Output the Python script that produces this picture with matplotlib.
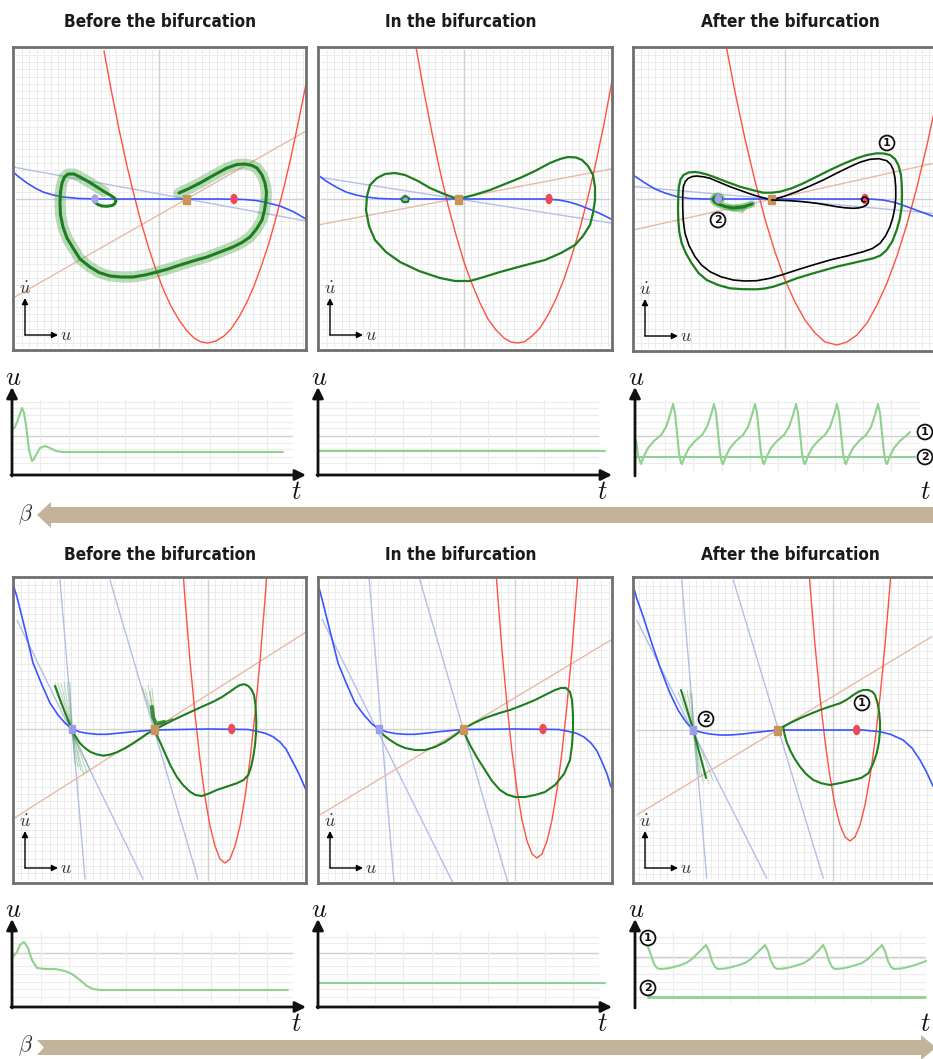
import numpy as np
import matplotlib.pyplot as plt
from matplotlib.patches import Polygon, Ellipse, Rectangle

plt.rcParams['mathtext.fontset'] = 'cm'

W, H = 933, 1059

# -----------------------------
# data (phase planes: offsets from the centre cross, u right / u-dot up)
# -----------------------------
titles = ["Before the bifurcation", "In the bifurcation", "After the bifurcation"]

tl_red = [(-55, 148), (-48, 110), (-40, 70), (-32, 33), (-25, 4), (-18, -23), (-10, -50), (-2, -74),
          (5, -92), (12, -107), (20, -121), (28, -132), (35, -139), (42, -143), (49, -144), (57, -142),
          (65, -137), (72, -130), (80, -118), (88, -103), (95, -87), (102, -68), (110, -44), (118, -15),
          (125, 12), (132, 42), (140, 80), (147, 115)]
tl_blue = [(-146, 27), (-140, 22), (-132, 16), (-124, 11), (-116, 7), (-106, 4), (-96, 2), (-80, 0.5),
           (-60, 0), (60, 0), (85, -0.5), (97, -1.5), (105, -3), (113, -5), (121, -7), (128, -10),
           (135, -13), (141, -16.5), (147, -20)]
tl_lightblue = [(-146, 32), (147, -22)]
tl_peach = [(-146, -99), (147, 68)]
tl_points = [(-64, 0), (27, 0), (75, 0)]
tl_green = [(20, 6), (30, 10.5), (41, 16), (55, 24), (68, 31), (78, 34.5), (86, 35), (93, 33.5), (98, 31),
            (103, 24), (106, 16), (107.5, 7), (107, -1), (105.5, -11), (103, -21), (97.5, -30), (91, -38),
            (83, -43.5), (74, -48), (61, -53), (48, -58), (34, -62), (21, -66), (9, -70), (-2, -73),
            (-14, -76), (-26, -78), (-38, -78), (-49, -77), (-60, -73.5), (-69, -68), (-79, -60),
            (-86, -49), (-92, -39), (-96, -28), (-98.5, -16), (-99, -4), (-98.5, 7), (-97, 16), (-94.5, 22),
            (-91, 25), (-85, 25), (-79, 22), (-70, 17), (-62, 12), (-55, 7.5), (-49, 4), (-44.5, 1),
            (-43, -2), (-44.5, -5), (-47, -6.5), (-52, -7.3), (-57, -7), (-61, -5.5), (-64, -3.5), (-65, 0)]
tl_halo_end = 46

tm_red = [(-48, 152), (-40, 107), (-32, 66), (-24, 28), (-16, -6), (-8, -36), (0, -63), (8, -85),
          (16, -104), (24, -120), (32, -131), (40, -139), (47, -143), (53, -144), (60, -143), (68, -137),
          (76, -129), (84, -116), (92, -100), (100, -80), (108, -56), (116, -29), (124, 2), (132, 37),
          (140, 75), (148, 118)]
tm_blue = [(-146, 24), (-138, 18), (-128, 12), (-118, 7), (-108, 4), (-98, 2), (-85, 0.5), (-70, 0),
           (80, 0), (95, -1), (105, -3), (115, -6), (125, -10), (135, -14), (147, -20)]
tm_lightblue = [(-146, 22), (147, -24)]
tm_peach = [(-146, -26), (147, 30)]
tm_points = [(-59, 0), (-6, 0), (85, 0)]
tm_green = [(-6, 0), (10, 4), (26, 9), (41, 15), (56, 21), (71, 28), (86, 36), (96, 40), (104, 42),
            (112, 41.5), (118, 39), (124, 33), (129, 24), (131, 12), (131, -1), (129, -14), (126, -26),
            (119, -37), (111, -46), (97, -54), (81, -61), (58, -67), (36, -73), (20, -78), (6, -82),
            (-9, -82), (-24, -79), (-45, -72), (-64, -63), (-78, -53), (-89, -41), (-95, -27), (-98, -11),
            (-97, 3), (-94, 14), (-87, 21), (-79, 25), (-69, 26), (-59, 24), (-46, 18), (-34, 11),
            (-20, 5), (-6, 0)]
tm_spiral = [(-59, 3), (-55, 1), (-56, -3), (-61, -3), (-63, 0), (-60, 2)]

tr_red = [(-59, 154), (-50, 107), (-40, 60), (-30, 18), (-20, -20), (-10, -53), (0, -81), (10, -103),
          (20, -121), (30, -134), (40, -143), (52, -146), (62, -143), (72, -136), (82, -124), (92, -106),
          (102, -84), (112, -57), (122, -25), (132, 12), (142, 54), (150, 91)]
tr_blue = [(-152, 24), (-140, 16), (-130, 10), (-120, 6), (-108, 2.3), (-95, 0.5), (-80, 0), (85, 0),
           (98, -1), (110, -3.5), (122, -7.7), (135, -12.5), (150, -18)]
tr_lightblue = [(-152, 12.5), (150, -14.5)]
tr_peach = [(-152, -31), (150, 36)]
tr_points = [(-66.7, 0), (-13.3, 0), (80, 0)]
tr_cycle = [(-106.7, 2.3), (-106.2, 12), (-104.5, 19.5), (-101.5, 24), (-96.5, 26.5), (-90, 27),
            (-85, 26.3), (-78, 24.5), (-71.7, 22.3), (-58, 17), (-45, 12.3), (-33, 9), (-21.7, 6.3),
            (-13, 6.3), (-5, 7.3), (6, 10.5), (18.3, 15.7), (31, 22), (45, 29), (58, 35), (71.7, 40.7),
            (82, 44), (91.7, 45.7), (99, 45.5), (105, 44), (110, 40), (113.3, 34), (115.8, 25),
            (116.7, 15.7), (117, 4), (116.7, -7.7), (114.8, -20), (111.7, -31), (107.5, -42), (101.7, -51),
            (95.5, -56.5), (88.3, -59.3), (70, -63.5), (51.7, -67.7), (31, -73.5), (11.7, -79.3),
            (0, -83.7), (-11.7, -87.7), (-20, -89.5), (-28.3, -90.3), (-42, -90.2), (-55, -89.3),
            (-67, -86), (-78.3, -81), (-86.5, -74), (-93.3, -64.3), (-99, -54.5), (-103.3, -44.3),
            (-105.7, -33), (-106.7, -21), (-107, -9), (-106.7, 2.3)]
tr_black = [(-13.3, -1), (0, 3), (11.7, 7.3), (25, 13), (38.3, 19), (52, 26), (65, 32.3), (75, 36.8),
            (85, 39.7), (94, 40.3), (101.7, 38.3), (105.8, 34.5), (108.3, 29), (110, 21), (110.7, 12.3),
            (110.8, 2), (110, -7.7), (108, -18), (105, -27.7), (100.5, -37), (95, -44.3), (87.5, -49.5),
            (78.3, -52.7), (62, -57), (45, -61), (28, -66), (11.7, -71), (-2, -75.5), (-15, -79.3),
            (-28.3, -81.7), (-40, -82), (-51.7, -81), (-64, -77.8), (-75, -72.7), (-83.5, -66), (-90, -57.7),
            (-96, -46.5), (-100, -34.3), (-101.8, -21), (-102.3, -7.7), (-102.3, 3), (-101.7, 12.3),
            (-99.7, 17.5), (-96.7, 20.7), (-92.5, 22.5), (-88.3, 23), (-81.5, 22.2), (-75, 20.7),
            (-65, 16.5), (-55, 12.3), (-43, 8), (-31.7, 4), (-22, 1.3), (-13.3, -1)]
tr_black_branch = [(-13.3, -1), (5, -1.7), (18, -2.7), (31.7, -4.3), (41, -5.8), (51.7, -7.7), (60, -8.8),
                   (68.3, -9.3), (74, -8.9), (78.3, -7.7), (81.5, -6), (83.3, -3.7), (83.5, -1.3),
                   (82.3, 0.7), (80.3, 1.9), (78.3, 1.7), (76.7, 0.2), (76.7, -1.7), (78.3, -2.8), (80, -2.7)]
tr_curl = [(-33, -5), (-42, -8), (-52, -9), (-60, -7.5), (-67, -5), (-70.5, -3), (-72, -0.5), (-71, 1.5),
           (-69, 2.8), (-67, 3), (-64.8, 2.2), (-63.5, 1), (-63.7, -0.5), (-64.5, -1.5), (-66, -1.6), (-67, -1)]
tr_wedge = [(-62, -6), (-35, -6), (-42, -14), (-55, -12)]

bl_red = [(-28, 200), (-23, 130), (-18, 68), (-13, 15), (-8, -31), (-3, -68), (2, -97), (7, -117),
          (12, -130), (17, -134), (22, -130), (27, -117), (32, -97), (37, -68), (42, -31), (47, 15),
          (52, 68), (57, 130), (62, 200)]
bl_blue = [(-195, 145), (-191, 132), (-183, 100), (-175, 66), (-166, 44), (-158, 26), (-150, 14),
           (-143, 6), (-136, 0), (-128, -3), (-121, -4.3), (-111, -5.3), (-101, -5.3), (-88, -4),
           (-75, -2.7), (-54, -1), (0, 0), (40, -0.5), (50, -2.5), (58, -4.5), (65, -7.7), (72, -13),
           (78, -20), (82, -27.7), (87, -37), (91, -45), (95, -54), (98, -61)]
bl_lightblue = [[(-148, 149), (-123, -150)], [(-191, 109), (-65, -150)], [(-98, 149), (-10, -150)]]
bl_peach = [(-195, -90), (98, 97)]
bl_points = [(-136.3, 0), (-54, 0), (23.7, 0)]
bl_green = [(-153, 43), (-149, 32), (-144.7, 20.7), (-140.5, 10), (-136.3, 0), (-132.5, -7.5), (-128, -14.3),
            (-123, -19), (-118, -22.7), (-111.5, -25.3), (-104.7, -26.7), (-98, -25.6), (-91.3, -23.3),
            (-83, -19.3), (-74.7, -14.3), (-67.5, -9.5), (-61.3, -5), (-54, -1), (-44, 4.2), (-34.7, 9),
            (-24.5, 13.8), (-14.7, 18.3), (-4.5, 23), (5.3, 27.3), (14, 32), (22, 37.3), (27.5, 41.3),
            (32, 44), (36.5, 44.8), (40.3, 43), (43.5, 39.5), (46, 34), (47.4, 25), (48, 15.7), (48.3, 6),
            (48, -4.3), (47, -16), (45.3, -27.7), (43.2, -37.5), (40.3, -46), (35.5, -51), (28.7, -54.3),
            (18.5, -57.7), (8.7, -61), (1, -64.5), (-6.3, -67), (-12.5, -66), (-18, -62.7), (-25, -56),
            (-31.3, -47.7), (-37.5, -36.5), (-43, -24.3), (-47.5, -14), (-51.3, -6), (-54, -1)]
bl_fan_top = [(-153, 46), (-150, 46), (-147, 46), (-144, 47), (-141, 47), (-138, 47)]
bl_fan_bot = [(-118, -41), (-121, -44), (-124, -46), (-127, -42), (-130, -38), (-133, -35)]
bl_sfan_top = [(-66, 42), (-63, 40), (-60, 44), (-58, 38), (-56, 41)]

bm_red = [(-23, 215), (-18, 143), (-13, 79), (-8, 24), (-3, -23), (2, -61), (7, -91), (12, -112),
          (17, -125), (22, -129), (27, -125), (32, -112), (37, -91), (42, -61), (47, -23), (52, 24),
          (57, 79), (62, 143), (67, 215)]
bm_blue = [(-197, 145), (-193, 130), (-185, 98), (-177, 66), (-168, 44), (-160, 26), (-151, 14),
           (-143, 5), (-136, 0), (-128, -3), (-120, -4.5), (-110, -5.3), (-100, -5.3), (-87, -4),
           (-74, -2.5), (-52, -0.5), (0, 0), (44, -0.5), (54, -2.5), (62, -4.5), (69, -8), (76, -14),
           (82, -22), (87, -33), (92, -45), (96, -58)]
bm_lightblue = [[(-146, 152), (-121, -154)], [(-193, 110), (-62, -154)], [(-96, 152), (-7, -154)]]
bm_peach = [(-197, -87), (96, 89)]
bm_points = [(-136, 0), (-52, 0), (28, 0)]
bm_green = [(-136, 0), (-131, -6.5), (-125, -11), (-118, -15.5), (-110, -19), (-100, -21), (-90, -21),
            (-80, -18), (-70, -13), (-61, -7), (-52, 0), (-41, 6), (-30, 11), (-17, 15.5), (-5, 19),
            (8, 24), (20, 29), (30, 34), (40, 39), (46, 41), (51, 41), (55, 37), (57, 29), (58, 14),
            (58, -1), (57, -16), (55, -31), (49, -45), (40, -56), (30, -63), (20, -66), (10, -68), (0, -68),
            (-8, -65.5), (-15, -61), (-23, -52), (-30, -41), (-38, -28.5), (-45, -16), (-49, -7.5), (-52, 0)]

br_red = [(-28, 213), (-23, 145), (-18, 85), (-13, 33), (-8, -11), (-3, -47), (2, -75), (7, -95),
          (12, -107), (17, -111), (22, -107), (27, -95), (32, -75), (37, -47), (42, -11), (47, 33),
          (52, 85), (57, 145), (62, 213)]
br_blue = [(-200, 145), (-196.3, 131.7), (-190, 114), (-180, 83), (-172, 60), (-163, 36.7), (-155, 20),
           (-147, 8), (-140, 0), (-131, -2.5), (-123, -4), (-113, -5), (-103, -5), (-90, -4), (-80, -2.7),
           (-55, 0), (30, 0), (47, -1.7), (58, -4.5), (70, -10), (79, -18), (87, -30), (93, -41),
           (98.7, -53.3), (102, -60)]
br_lightblue = [[(-151.3, 150), (-126.3, -148.3)], [(-196.3, 110), (-66.3, -148.3)],
                [(-99.7, 150), (-9.7, -148.3)]]
br_peach = [(-196.3, -85), (98.7, 93.3)]
br_points = [(-139.7, 0), (-55.3, 0), (23.7, 0)]
br_green = [(-49.7, 3.3), (-41.5, 7.7), (-33, 11.7), (-23, 16), (-13, 20), (-3, 23.5), (7, 26.7),
            (14, 30.5), (20.3, 35), (25.5, 38.3), (30.3, 40), (35.5, 40), (39.5, 38.2), (42, 35), (44.8, 26),
            (46.3, 16.7), (47, 8), (47, 0), (46, -12), (43.7, -23.3), (40, -34), (35.3, -43.3), (28.5, -47.8),
            (20.3, -50), (8.5, -52.8), (-3, -55), (-11.5, -53.3), (-19.7, -50), (-27, -44), (-33, -36.7),
            (-38.5, -28.5), (-43, -20), (-46.5, -11.5), (-48.7, -3.3), (-49.7, 3.3)]
br_fan_top = [(-155, 38), (-152, 40), (-149, 38), (-146, 40), (-143, 38), (-141, 36)]
br_fan_bot = [(-120, -50), (-124, -54), (-127, -48), (-130, -52), (-133, -46), (-136, -44)]

# time series (t, u)
ts_tl = [(0, 45), (3, 48), (5, 53), (8, 61), (10, 67), (12, 62), (14, 50), (17, 25), (20, 14), (22, 16),
         (24, 20), (28, 27), (33, 29), (38, 27), (44, 24), (50, 23), (55, 23), (271, 23)]
ts_tm = [(0, 24), (287, 24)]
ts_tr1 = [(1, 35), (3, 20),
          (6, 11), (9, 19), (13, 27), (19, 34), (26, 40), (31, 48), (35, 60), (38, 71), (40, 62), (42, 42), (44, 22), (46, 12),
          (47, 11), (50, 19), (54, 27), (60, 34), (67, 40), (72, 48), (76, 60), (79, 71), (81, 62), (83, 42), (85, 22), (87, 12),
          (88, 11), (91, 19), (95, 27), (101, 34), (108, 40), (113, 48), (117, 60), (120, 71), (122, 62), (124, 42), (126, 22), (128, 12),
          (129, 11), (132, 19), (136, 27), (142, 34), (149, 40), (154, 48), (158, 60), (161, 71), (163, 62), (165, 42), (167, 22), (169, 12),
          (170, 11), (173, 19), (177, 27), (183, 34), (190, 40), (195, 48), (199, 60), (202, 71), (204, 62), (206, 42), (208, 22), (210, 12),
          (211, 11), (214, 19), (218, 27), (224, 34), (231, 40), (236, 48), (240, 60), (243, 71), (245, 62), (247, 42), (249, 22), (251, 12),
          (252, 11), (255, 19), (259, 27), (265, 34), (272, 40), (275, 43)]
ts_tr2 = [(1, 18), (280, 18)]
ts_bl = [(0, 49), (5, 55), (8, 62), (12, 65), (16, 59), (20, 47), (25, 39), (33, 38), (43, 38), (53, 36),
         (60, 33), (68, 27), (75, 21), (81, 18), (88, 17), (276, 17)]
ts_bm = [(0, 24), (287, 24)]
ts_br1 = [(13, 60), (16, 52), (19, 43), (22, 39), (25, 38), (32, 38.5), (39, 40), (46, 42), (51, 44), (57, 48), (61, 52), (66, 57), (71, 62),
          (74, 56), (77, 46), (80, 40), (83, 38), (90, 38.5), (97, 40), (104, 42), (110, 44), (116, 48), (120, 52), (125, 57), (130, 62),
          (133, 56), (136, 46), (139, 40), (142, 38), (149, 38.5), (156, 40), (163, 42), (169, 44), (175, 48), (179, 52), (184, 57), (188, 62),
          (191, 56), (194, 46), (197, 40), (200, 38), (207, 38.5), (214, 40), (221, 42), (227, 44), (233, 48), (237, 52), (242, 57), (247, 62),
          (250, 56), (253, 46), (256, 40), (259, 38), (266, 38.5), (273, 40), (280, 42), (286, 44), (291, 46)]
ts_br2 = [(13, 10), (290, 10)]

# -----------------------------
# colours
# -----------------------------
RED = '#ff5040'
BLUE = '#3a55ff'
LBLUE = '#b3bfe8'
PEACH = '#e6baa6'
GREEN = '#1c7e1c'
TSGREEN = '#8fd18f'
TAN = '#c7955c'
ARROWC = '#c3b39a'

fig = plt.figure(figsize=(W / 100, H / 100), dpi=100)


def px_axes(x0, y0, x1, y1):
    return fig.add_axes([x0 / W, 1 - y1 / H, (x1 - x0) / W, (y1 - y0) / H])


def line(ax, pts, **kw):
    a = np.array(pts, dtype=float)
    ax.plot(a[:, 0], a[:, 1], solid_capstyle='round', solid_joinstyle='round', **kw)


def grid_vals(lo, hi, step):
    return np.arange(int(np.ceil(lo / step)), int(np.floor(hi / step)) + 1) * step


def phase_panel(box, centre, red, blue, lblue, peach, points, node_square=False):
    x0, y0, x1, y1 = box
    cx, cy = centre
    ax = px_axes(x0, y0, x1, y1)
    ax.set_xlim(x0 - cx, x1 - cx)
    ax.set_ylim(cy - y1, cy - y0)
    ax.set_xticks([])
    ax.set_yticks([])
    for s in ax.spines.values():
        s.set_color('#707070')
        s.set_linewidth(2)
    xl, yl = ax.get_xlim(), ax.get_ylim()
    for g in grid_vals(xl[0] + 3, xl[1] - 3, 7.2):
        ax.plot([g, g], [yl[0] + 3, yl[1] - 3], color='#ebebeb', lw=0.7, zorder=0)
    for g in grid_vals(yl[0] + 3, yl[1] - 3, 7.2):
        ax.plot([xl[0] + 3, xl[1] - 3], [g, g], color='#ebebeb', lw=0.7, zorder=0)
    ax.plot([0, 0], [yl[0] + 3, yl[1] - 3], color='#d0d0d0', lw=1, zorder=0)
    ax.plot([xl[0] + 3, xl[1] - 3], [0, 0], color='#d0d0d0', lw=1, zorder=0)

    line(ax, red, color=RED, lw=1.0, zorder=2)
    if isinstance(lblue[0], tuple):
        lblue = [lblue]
    for seg in lblue:
        line(ax, seg, color=LBLUE, lw=1.0, zorder=1)
    line(ax, peach, color=PEACH, lw=1.0, zorder=1)
    line(ax, blue, color=BLUE, lw=1.2, zorder=2)

    (a, b), (c, d), (e, f) = points
    if node_square:
        ax.add_patch(Rectangle((a - 3, b - 4), 6, 8, color='#9c9cee', zorder=6))
    else:
        ax.add_patch(Ellipse((a, b), 6, 8, color='#a3a3f0', zorder=6))
    ax.add_patch(Rectangle((c - 3.5, d - 4.5), 7, 9, color=TAN, zorder=6))
    ax.add_patch(Ellipse((e, f), 6, 9, color='#ec4a58', zorder=6))
    ax.set_xlim(xl)
    ax.set_ylim(yl)
    return ax


def ts_panel(origin, width, hvals, dark, vstart, vmax):
    ox, oy = origin
    ax = px_axes(ox, oy - 87, ox + width, oy)
    ax.set_xlim(0, width)
    ax.set_ylim(0, 87)
    ax.axis('off')
    for h in hvals:
        ax.plot([0, vmax], [h, h], color='#ececec', lw=0.8, zorder=0)
    ax.plot([0, vmax], [dark, dark], color='#cfcfcf', lw=1, zorder=0)
    for v in np.arange(vstart, vmax, 28.3):
        ax.plot([v, v], [5, 75], color='#ececec', lw=0.8, zorder=0)
    return ax


# -----------------------------
# phase planes
# -----------------------------
ax = phase_panel((13, 47, 306, 350), (159, 199), tl_red, tl_blue, tl_lightblue, tl_peach, tl_points)
line(ax, tl_green[:tl_halo_end], color='#3d9e3d', lw=8, alpha=0.35, zorder=4)
line(ax, tl_green, color=GREEN, lw=2.2, zorder=5)

ax = phase_panel((318, 47, 612, 350), (464, 199), tm_red, tm_blue, tm_lightblue, tm_peach, tm_points)
line(ax, tm_green, color=GREEN, lw=1.6, zorder=5)
line(ax, tm_spiral, color=GREEN, lw=1.4, zorder=7)

ax = phase_panel((633, 47, 936, 351), (785, 199), tr_red, tr_blue, tr_lightblue, tr_peach, tr_points)
line(ax, tr_cycle, color=GREEN, lw=1.6, zorder=5)
line(ax, tr_black, color='black', lw=1.2, zorder=5)
line(ax, tr_black_branch, color='black', lw=1.2, zorder=7)
ax.add_patch(Polygon(tr_wedge, closed=True, color='#4ca64c', alpha=0.45, lw=0, zorder=4))
line(ax, tr_curl, color='#3d9e3d', lw=5, alpha=0.5, zorder=5)
line(ax, tr_curl, color=GREEN, lw=2.2, zorder=5)

ax = phase_panel((13, 577, 306, 883), (208, 729), bl_red, bl_blue, bl_lightblue, bl_peach, bl_points, True)
for top, bot in zip(bl_fan_top, bl_fan_bot):
    line(ax, [top, bl_points[0], bot], color=GREEN, lw=0.7, alpha=0.3, zorder=4)
for top in bl_sfan_top:
    line(ax, [top, (-53, 4), (-35, 10)], color=GREEN, lw=0.7, alpha=0.3, zorder=4)
line(ax, [(-56, 22), (-55, 12), (-52, 5), (-44, 7)], color=GREEN, lw=3, alpha=0.8, zorder=5)
line(ax, bl_green, color=GREEN, lw=1.5, zorder=5)

ax = phase_panel((318, 577, 612, 883), (515, 729), bm_red, bm_blue, bm_lightblue, bm_peach, bm_points, True)
line(ax, bm_green, color=GREEN, lw=1.5, zorder=5)

ax = phase_panel((633, 577, 936, 883), (833, 730), br_red, br_blue, br_lightblue, br_peach, br_points, True)
for top, bot in zip(br_fan_top, br_fan_bot):
    line(ax, [top, br_points[0], bot], color=GREEN, lw=0.7, alpha=0.3, zorder=4)
line(ax, [br_fan_top[1], br_points[0], br_fan_bot[2]], color=GREEN, lw=1.4, zorder=5)
line(ax, br_green, color=GREEN, lw=1.5, zorder=5)

# -----------------------------
# time series
# -----------------------------
top_h = [11.7, 18.3, 25.7, 32.3, 46.7, 53.3, 60, 66.7, 73.3]
bot_h = [10, 18, 25, 33, 41, 49, 64, 70]

ax = ts_panel((12, 475), 294, top_h, 39.3, 28.3, 280)
line(ax, ts_tl, color=TSGREEN, lw=1.5)
ax = ts_panel((318, 475), 294, top_h, 39.3, 28.3, 280)
line(ax, ts_tm, color=TSGREEN, lw=1.5)
ax = ts_panel((635, 475), 300, top_h, 39.3, 30, 284)
line(ax, ts_tr1, color=TSGREEN, lw=1.5)
line(ax, ts_tr2, color=TSGREEN, lw=1.5)

ax = ts_panel((12, 1007), 294, bot_h, 54, 28.7, 280)
line(ax, ts_bl, color=TSGREEN, lw=1.5)
ax = ts_panel((318, 1007), 294, bot_h, 54, 28.7, 280)
line(ax, ts_bm, color=TSGREEN, lw=1.5)
ax = ts_panel((635, 1007), 300, bot_h, 50, 38.3, 290)
line(ax, ts_br1, color=TSGREEN, lw=1.5)
line(ax, ts_br2, color=TSGREEN, lw=2)

# -----------------------------
# overlay: titles, arrows, labels
# -----------------------------
ov = fig.add_axes([0, 0, 1, 1])
ov.set_xlim(0, W)
ov.set_ylim(H, 0)
ov.axis('off')
ov.set_zorder(10)
ov.patch.set_visible(False)

for row_y in (22, 555):
    for cxp, t in zip((160, 461, 790), titles):
        ov.text(cxp, row_y, t, ha='center', va='center', fontsize=12.3, fontweight='bold',
                family=['Liberation Sans Narrow', 'DejaVu Sans'], fontstretch='condensed',
                color='#1a1a1a')

# u-dot / u indicators in phase panels
for fx, fy in [(13, 350), (318, 350), (633, 351), (13, 883), (318, 883), (633, 883)]:
    ox, oy = fx + 12, fy - 15
    ov.annotate('', xy=(ox, oy - 37), xytext=(ox, oy),
                arrowprops=dict(arrowstyle='-|>', color='k', lw=1, mutation_scale=9, shrinkA=0, shrinkB=0))
    ov.annotate('', xy=(ox + 33, oy), xytext=(ox, oy),
                arrowprops=dict(arrowstyle='-|>', color='k', lw=1, mutation_scale=9, shrinkA=0, shrinkB=0))
    ov.text(ox, oy - 46, r'$\dot{u}$', ha='center', va='center', fontsize=13, color='#333333')
    ov.text(ox + 41, oy, r'$u$', ha='center', va='center', fontsize=13, color='#333333')

# time-series axes arrows
for ox, oy, wd in [(12, 475, 294), (318, 475, 294), (635, 475, 300),
                   (12, 1007, 294), (318, 1007, 294), (635, 1007, 300)]:
    ov.annotate('', xy=(ox, oy - 88), xytext=(ox, oy + 1),
                arrowprops=dict(arrowstyle='-|>', color='#111111', lw=2, mutation_scale=16, shrinkA=0, shrinkB=0))
    ov.annotate('', xy=(ox + wd, oy), xytext=(ox - 1, oy),
                arrowprops=dict(arrowstyle='-|>', color='#111111', lw=2, mutation_scale=16, shrinkA=0, shrinkB=0))
    ov.text(ox + 1, oy - 97, r'$u$', ha='center', va='center', fontsize=19, color='#111111')
    ov.text(ox + wd - 10, oy + 17, r'$t$', ha='center', va='center', fontsize=19, color='#111111')

# beta arrows
ov.add_patch(Polygon([(37, 515), (51, 502), (51, 507), (940, 507), (940, 523), (51, 523), (51, 528)],
                     closed=True, color=ARROWC, lw=0))
ov.add_patch(Polygon([(37, 1040), (921, 1040), (921, 1035), (936, 1047.5), (921, 1060), (921, 1055),
                      (37, 1055), (44, 1047.5)], closed=True, color=ARROWC, lw=0))
ov.text(26, 515, r'$\beta$', ha='center', va='center', fontsize=16, color='#333333')
ov.text(26, 1046, r'$\beta$', ha='center', va='center', fontsize=16, color='#333333')


def badge(x, y, s):
    ov.text(x, y, s, ha='center', va='center', fontsize=8, fontweight='bold', color='#111111',
            bbox=dict(boxstyle='circle,pad=0.22', fc='white', ec='#111111', lw=1.3))


badge(887, 143, '1')
badge(718, 220, '2')
badge(862, 703, '1')
badge(706, 719, '2')
badge(925, 432, '1')
badge(925, 457, '2')
badge(648, 938, '1')
badge(648, 988, '2')

fig.savefig('out.png', dpi=100)
